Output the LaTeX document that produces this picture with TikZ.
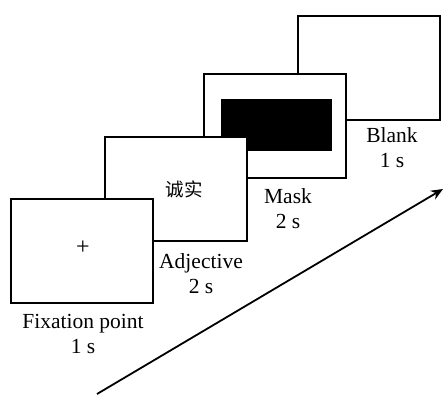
\documentclass[tikz,border=0pt]{standalone}
\usepackage{fontspec}
\setmainfont{Liberation Serif}
\newfontfamily\cjk{Noto Sans CJK SC}
\usetikzlibrary{arrows.meta}
\begin{document}
\begin{tikzpicture}[x=1pt,y=-1pt,
  frame/.style={draw, line width=1.8pt, fill=white, minimum width=142pt, minimum height=104pt, inner sep=0pt, anchor=north west},
  lbl/.style={font=\fontsize{21.5}{25}\selectfont, align=center, inner sep=0pt}]
\useasboundingbox (0,0) rectangle (443,395);
\node[frame] (blank) at (297,15) {};
\node[frame] (mask) at (203,73) {};
\node[fill=black, minimum width=111pt, minimum height=52pt, inner sep=0pt, anchor=north west] (maskfill) at (221,99) {};
\node[frame] (adj) at (104,136) {};
\node[frame] (fix) at (10,198) {};
\node[font=\fontsize{24}{24}\selectfont, inner sep=0pt] (plus) at (83,248) {+};
\node[font=\cjk\fontsize{18.5}{20}\selectfont, inner sep=0pt] (word) at (184,189) {诚实};
\node[lbl] (lfix) at (83,334) {Fixation point\\1 s};
\node[lbl] (ladj) at (201,274) {Adjective\\2 s};
\node[lbl] (lmask) at (288,209) {Mask\\2 s};
\node[lbl] (lblank) at (392,148) {Blank\\1 s};
\coordinate (a0) at (97,394);
\coordinate (a1) at (443,189);
\draw[line width=1.8pt, -{Stealth[length=12pt,width=10pt]}] (a0) -- (a1);
\end{tikzpicture}
\end{document}
